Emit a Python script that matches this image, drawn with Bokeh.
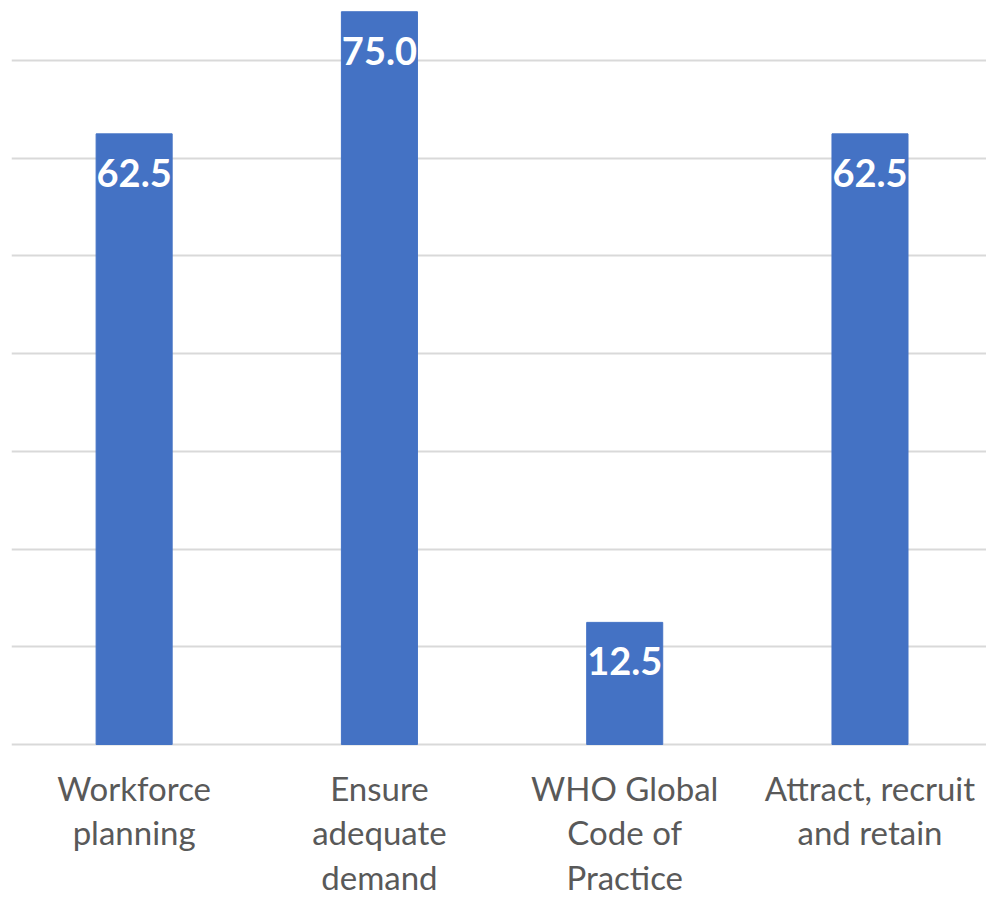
from bokeh.plotting import figure
from bokeh.models import ColumnDataSource, FixedTicker, Range1d
from bokeh.core.properties import value
from bokeh.embed import file_html
from bokeh.resources import INLINE

categories = ["Workforce\nplanning", "Ensure\nadequate\ndemand", "WHO Global\nCode of\nPractice", "Attract, recruit\nand retain"]
values = [62.5, 75.0, 12.5, 62.5]
grid_ticks = [0, 10, 20, 30, 40, 50, 60, 70]

xs = [i + 0.5 for i in range(len(categories))]
src = ColumnDataSource(dict(
    x=xs,
    top=values,
    zero=[0] * len(values),
    lab=[f"{v:.1f}" for v in values],
    cat=categories,
))

p = figure(width=986, height=898, output_backend="svg", toolbar_location=None,
           x_range=Range1d(0, 3.975), y_range=Range1d(-15.76, 76.15),
           min_border_left=11, min_border_right=0, min_border_top=0, min_border_bottom=0)
p.outline_line_color = None
p.xaxis.visible = False
p.yaxis.visible = False
p.xgrid.visible = False
p.ygrid.ticker = FixedTicker(ticks=grid_ticks)
p.ygrid.grid_line_color = "#D9D9D9"
p.ygrid.grid_line_width = 2

p.vbar(x="x", top="top", bottom=0, width=0.31, source=src,
       fill_color="#4472C4", line_color="#4472C4")

p.text(x="x", y="top", text="lab", source=src, text_color="white",
       text_font=value("Lato"), text_font_style="bold", text_font_size="38px",
       text_align="center", text_baseline="middle", y_offset=39)

p.text(x="x", y="zero", text="cat", source=src, text_color="#595959",
       text_font=value("Lato"), text_font_size="33px", text_line_height=1.12,
       text_align="center", text_baseline="top", y_offset=23)

open("out.html", "w").write(file_html(p, INLINE))
